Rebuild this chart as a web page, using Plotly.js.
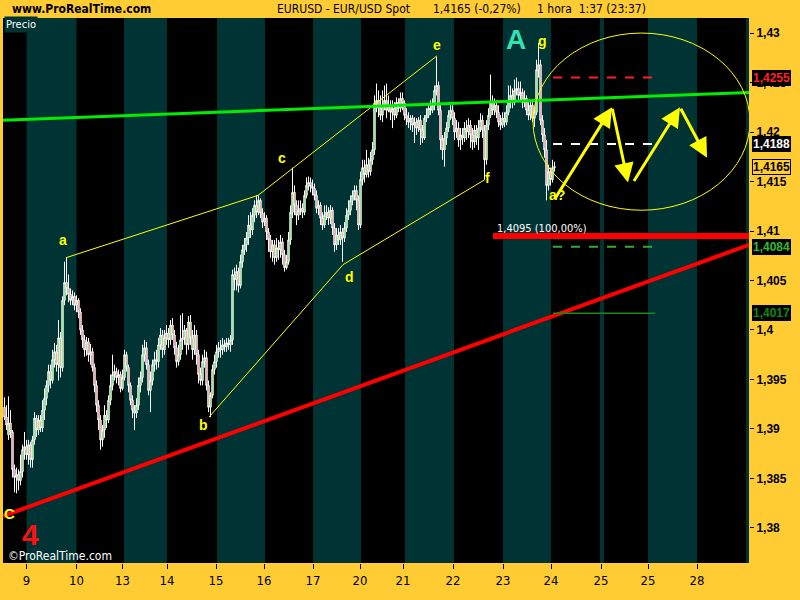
<!DOCTYPE html>
<html>
<head>
<meta charset="utf-8">
<script src="https://cdn.plot.ly/plotly-3.0.1.min.js"></script>
<style>html,body{margin:0;padding:0;background:#ffcc33;}#chart{width:800px;height:600px;}</style>
</head>
<body>
<div id="chart"></div>
<script>
// ---- DATA (EUR/USD, 1 hour candles) ----
const openP = [1.3922,1.3912,1.3894,1.3906,1.3897,1.3859,1.3851,1.3854,1.3848,1.3857,
1.3879,1.3882,1.3874,1.3884,1.3869,1.3889,1.3911,1.3899,1.3909,1.3901,
1.3919,1.3931,1.3944,1.3958,1.3949,1.3970,1.3978,1.3965,1.3992,1.3962,
1.4030,1.4048,1.4042,1.4036,1.4030,1.4034,1.4025,1.4030,1.4018,1.4000,
1.3990,1.3980,1.3988,1.3975,1.3978,1.3962,1.3944,1.3924,1.3909,1.3889,
1.3899,1.3914,1.3909,1.3929,1.3944,1.3955,1.3958,1.3952,1.3955,1.3941,
1.3952,1.3975,1.3962,1.3944,1.3929,1.3919,1.3916,1.3924,1.3944,1.3952,
1.3975,1.3982,1.3965,1.3939,1.3949,1.3965,1.3970,1.3968,1.3985,1.3995,
1.3980,1.3992,1.3997,1.3990,1.4005,1.3995,1.3982,1.3968,1.3975,1.3990,
1.3992,1.4000,1.3985,1.4008,1.3992,1.3980,1.3995,1.3975,1.3955,1.3949,
1.3968,1.3972,1.3944,1.3922,1.3934,1.3960,1.3968,1.3978,1.3982,1.3980,
1.3985,1.3983,1.3987,1.3985,1.3990,1.4056,1.4051,1.4059,1.4045,1.4069,
1.4081,1.4086,1.4093,1.4106,1.4101,1.4116,1.4126,1.4119,1.4131,1.4118,
1.4109,1.4113,1.4099,1.4091,1.4079,1.4086,1.4073,1.4083,1.4081,1.4089,
1.4076,1.4063,1.4069,1.4091,1.4119,1.4139,1.4126,1.4116,1.4121,1.4123,
1.4119,1.4136,1.4146,1.4149,1.4145,1.4143,1.4136,1.4123,1.4126,1.4113,
1.4106,1.4116,1.4119,1.4113,1.4121,1.4103,1.4086,1.4096,1.4091,1.4099,
1.4093,1.4103,1.4116,1.4121,1.4131,1.4136,1.4141,1.4131,1.4106,1.4152,
1.4164,1.4157,1.4167,1.4160,1.4172,1.4182,1.4229,1.4232,1.4224,1.4217,
1.4227,1.4232,1.4222,1.4227,1.4220,1.4224,1.4217,1.4230,1.4224,1.4234,
1.4229,1.4217,1.4214,1.4210,1.4214,1.4207,1.4210,1.4204,1.4212,1.4202,
1.4194,1.4214,1.4217,1.4224,1.4222,1.4227,1.4242,1.4247,1.4222,1.4192,
1.4182,1.4194,1.4204,1.4217,1.4222,1.4214,1.4200,1.4204,1.4192,1.4197,
1.4194,1.4204,1.4200,1.4207,1.4197,1.4190,1.4202,1.4194,1.4204,1.4212,
1.4202,1.4172,1.4207,1.4217,1.4230,1.4222,1.4227,1.4220,1.4210,1.4207,
1.4214,1.4210,1.4220,1.4232,1.4237,1.4230,1.4242,1.4244,1.4237,1.4240,
1.4230,1.4234,1.4222,1.4217,1.4227,1.4214,1.4220,1.4263,1.4268,1.4212,
1.4197,1.4182,1.4146,1.4160,1.4152,1.4164];
const highP = [1.3932,1.3924,1.3933,1.3919,1.3899,1.3864,1.3861,1.3859,1.3874,1.3884,
1.3897,1.3889,1.3889,1.3887,1.3893,1.3917,1.3914,1.3914,1.3914,1.3929,
1.3941,1.3949,1.3965,1.3965,1.3980,1.3987,1.3985,1.4010,1.3998,1.4034,
1.4069,1.4073,1.4056,1.4042,1.4040,1.4038,1.4035,1.4032,1.4022,1.4005,
1.3995,1.3993,1.3992,1.3986,1.3982,1.3966,1.3949,1.3929,1.3914,1.3904,
1.3924,1.3919,1.3934,1.3955,1.3975,1.3965,1.3962,1.3960,1.3958,1.3960,
1.3980,1.3978,1.3965,1.3947,1.3934,1.3924,1.3931,1.3952,1.3958,1.3985,
1.3990,1.3988,1.3970,1.3958,1.3970,1.3978,1.3980,1.3992,1.4002,1.4000,
1.4000,1.4005,1.4002,1.4010,1.4012,1.4000,1.3988,1.3985,1.4015,1.4017,
1.4005,1.4002,1.4014,1.4015,1.4000,1.4005,1.4000,1.3980,1.3962,1.3975,
1.3980,1.3978,1.3949,1.3937,1.3965,1.3975,1.3985,1.3988,1.3990,1.3992,
1.3990,1.3992,1.3992,1.3995,1.4061,1.4063,1.4066,1.4063,1.4076,1.4086,
1.4093,1.4099,1.4116,1.4119,1.4123,1.4131,1.4136,1.4136,1.4133,1.4123,
1.4119,1.4116,1.4103,1.4096,1.4091,1.4091,1.4093,1.4091,1.4096,1.4093,
1.4081,1.4076,1.4099,1.4126,1.4164,1.4146,1.4131,1.4131,1.4131,1.4128,
1.4141,1.4154,1.4155,1.4154,1.4152,1.4148,1.4141,1.4131,1.4129,1.4119,
1.4126,1.4126,1.4124,1.4126,1.4124,1.4108,1.4103,1.4103,1.4106,1.4103,
1.4109,1.4123,1.4131,1.4136,1.4141,1.4146,1.4146,1.4136,1.4160,1.4172,
1.4172,1.4182,1.4174,1.4180,1.4190,1.4237,1.4249,1.4242,1.4237,1.4242,
1.4247,1.4249,1.4237,1.4232,1.4232,1.4230,1.4235,1.4234,1.4240,1.4240,
1.4232,1.4224,1.4220,1.4217,1.4217,1.4215,1.4214,1.4215,1.4217,1.4207,
1.4217,1.4224,1.4229,1.4232,1.4234,1.4247,1.4276,1.4251,1.4227,1.4197,
1.4200,1.4210,1.4222,1.4227,1.4227,1.4220,1.4212,1.4210,1.4204,1.4204,
1.4210,1.4212,1.4214,1.4212,1.4204,1.4207,1.4207,1.4212,1.4219,1.4217,
1.4207,1.4212,1.4224,1.4258,1.4237,1.4234,1.4232,1.4227,1.4217,1.4220,
1.4220,1.4227,1.4247,1.4247,1.4244,1.4253,1.4255,1.4251,1.4251,1.4244,
1.4242,1.4237,1.4230,1.4232,1.4232,1.4224,1.4273,1.4290,1.4273,1.4217,
1.4204,1.4192,1.4167,1.4164,1.4172,1.4170];
const lowP = [1.3909,1.3899,1.3889,1.3891,1.3851,1.3836,1.3835,1.3838,1.3843,1.3851,
1.3869,1.3869,1.3864,1.3861,1.3861,1.3884,1.3892,1.3894,1.3897,1.3897,
1.3909,1.3924,1.3937,1.3941,1.3946,1.3962,1.3958,1.3949,1.3952,1.3958,
1.4025,1.4035,1.4028,1.4025,1.4025,1.4020,1.4018,1.4012,1.3995,1.3982,
1.3973,1.3974,1.3968,1.3965,1.3958,1.3937,1.3917,1.3899,1.3879,1.3882,
1.3891,1.3901,1.3906,1.3924,1.3939,1.3949,1.3946,1.3944,1.3937,1.3939,
1.3949,1.3958,1.3937,1.3924,1.3911,1.3899,1.3911,1.3919,1.3937,1.3947,
1.3968,1.3960,1.3934,1.3917,1.3944,1.3958,1.3960,1.3962,1.3980,1.3972,
1.3975,1.3985,1.3982,1.3985,1.3990,1.3975,1.3962,1.3964,1.3970,1.3980,
1.3985,1.3975,1.3980,1.3985,1.3970,1.3975,1.3965,1.3946,1.3944,1.3944,
1.3962,1.3939,1.3917,1.3912,1.3931,1.3955,1.3962,1.3972,1.3972,1.3975,
1.3978,1.3978,1.3980,1.3978,1.3985,1.4040,1.4040,1.4038,1.4042,1.4063,
1.4076,1.4079,1.4086,1.4093,1.4096,1.4109,1.4113,1.4116,1.4113,1.4103,
1.4105,1.4091,1.4079,1.4073,1.4069,1.4066,1.4069,1.4071,1.4073,1.4066,
1.4059,1.4061,1.4066,1.4086,1.4113,1.4116,1.4106,1.4111,1.4116,1.4113,
1.4116,1.4133,1.4141,1.4139,1.4136,1.4131,1.4118,1.4116,1.4106,1.4101,
1.4103,1.4111,1.4106,1.4107,1.4096,1.4079,1.4081,1.4086,1.4086,1.4069,
1.4089,1.4099,1.4111,1.4116,1.4126,1.4131,1.4121,1.4101,1.4103,1.4146,
1.4149,1.4154,1.4154,1.4156,1.4167,1.4177,1.4220,1.4215,1.4212,1.4210,
1.4222,1.4214,1.4220,1.4212,1.4204,1.4212,1.4214,1.4220,1.4220,1.4222,
1.4212,1.4207,1.4204,1.4202,1.4200,1.4189,1.4197,1.4200,1.4187,1.4189,
1.4192,1.4210,1.4214,1.4217,1.4219,1.4222,1.4237,1.4217,1.4182,1.4172,
1.4165,1.4187,1.4200,1.4212,1.4207,1.4192,1.4194,1.4185,1.4182,1.4187,
1.4190,1.4192,1.4194,1.4184,1.4182,1.4184,1.4187,1.4182,1.4200,1.4194,
1.4152,1.4167,1.4202,1.4214,1.4217,1.4217,1.4214,1.4205,1.4202,1.4204,
1.4205,1.4207,1.4217,1.4224,1.4224,1.4227,1.4237,1.4232,1.4232,1.4224,
1.4225,1.4217,1.4212,1.4212,1.4210,1.4205,1.4217,1.4255,1.4207,1.4190,
1.4174,1.4131,1.4141,1.4146,1.4149,1.4160];
const closeP = [1.3912,1.3904,1.3906,1.3897,1.3859,1.3851,1.3854,1.3848,1.3857,1.3879,
1.3882,1.3874,1.3884,1.3869,1.3889,1.3911,1.3899,1.3909,1.3901,1.3919,
1.3931,1.3944,1.3958,1.3949,1.3970,1.3978,1.3965,1.3992,1.3962,1.4030,
1.4048,1.4042,1.4036,1.4030,1.4034,1.4025,1.4030,1.4018,1.4000,1.3990,
1.3980,1.3988,1.3975,1.3978,1.3962,1.3944,1.3924,1.3909,1.3889,1.3899,
1.3914,1.3909,1.3929,1.3944,1.3955,1.3958,1.3952,1.3955,1.3941,1.3952,
1.3975,1.3962,1.3944,1.3929,1.3919,1.3916,1.3924,1.3944,1.3952,1.3975,
1.3982,1.3965,1.3939,1.3949,1.3965,1.3970,1.3968,1.3985,1.3995,1.3980,
1.3992,1.3997,1.3990,1.4005,1.3995,1.3982,1.3968,1.3975,1.3990,1.3992,
1.4000,1.3985,1.4008,1.3992,1.3980,1.3995,1.3975,1.3955,1.3949,1.3968,
1.3972,1.3944,1.3922,1.3934,1.3960,1.3968,1.3978,1.3982,1.3980,1.3985,
1.3983,1.3987,1.3985,1.3990,1.4056,1.4051,1.4059,1.4045,1.4069,1.4081,
1.4086,1.4093,1.4106,1.4101,1.4116,1.4126,1.4119,1.4131,1.4118,1.4109,
1.4113,1.4099,1.4091,1.4079,1.4086,1.4073,1.4083,1.4081,1.4089,1.4076,
1.4063,1.4069,1.4091,1.4119,1.4139,1.4126,1.4116,1.4121,1.4123,1.4119,
1.4136,1.4146,1.4149,1.4145,1.4143,1.4136,1.4123,1.4126,1.4113,1.4106,
1.4116,1.4119,1.4113,1.4121,1.4103,1.4086,1.4096,1.4091,1.4099,1.4093,
1.4103,1.4116,1.4121,1.4131,1.4136,1.4141,1.4131,1.4106,1.4152,1.4164,
1.4157,1.4167,1.4160,1.4172,1.4182,1.4229,1.4232,1.4224,1.4217,1.4227,
1.4232,1.4222,1.4227,1.4220,1.4224,1.4217,1.4230,1.4224,1.4234,1.4229,
1.4217,1.4214,1.4210,1.4214,1.4207,1.4210,1.4204,1.4212,1.4202,1.4194,
1.4214,1.4217,1.4224,1.4222,1.4227,1.4242,1.4247,1.4222,1.4192,1.4182,
1.4194,1.4204,1.4217,1.4222,1.4214,1.4200,1.4204,1.4192,1.4197,1.4194,
1.4204,1.4200,1.4207,1.4197,1.4190,1.4202,1.4194,1.4204,1.4212,1.4202,
1.4172,1.4207,1.4217,1.4230,1.4222,1.4227,1.4220,1.4210,1.4207,1.4214,
1.4210,1.4220,1.4232,1.4237,1.4230,1.4242,1.4244,1.4237,1.4240,1.4230,
1.4234,1.4222,1.4217,1.4227,1.4214,1.4220,1.4263,1.4268,1.4212,1.4197,
1.4182,1.4146,1.4160,1.4152,1.4164,1.4165];

// x axis: candle slots (1 slot = 1 hour bar); day labels at day starts
const dayTickPos = [11.75, 36.75, 59.75, 82, 106.5, 130.5, 155, 178.5, 200, 225, 250, 274, 299, 322.5, 347];
const dayLabels = ['9','10','13','14','15','16','17','20','21','22','23','24','25','25','28'];
const bandStart = [11.75, 60.5, 107, 155, 201, 250, 298.5, 322.5, 371.5];
const bandEnd   = [36.75, 82, 131, 179, 225.5, 274, 300.5, 347, 373];

const priceTicks = [1.38, 1.385, 1.39, 1.395, 1.40, 1.405, 1.41, 1.415, 1.42, 1.425, 1.43];
const priceTickText = ['1,38','1,385','1,39','1,395','1,4','1,405','1,41','1,415','1,42','1,425','1,43'];

// wave drawing points (slot, price)
const upperWaveX = [31.5, 127.5, 217];
const upperWaveY = [1.4073, 1.4136, 1.4277];
const lowerWaveX = [103, 170, 241];
const lowerWaveY = [1.3912, 1.4066, 1.4152];
const greenLineX = [0, 373];
const greenLineY = [1.4212, 1.4240];
const redTrendX = [0, 373];
const redTrendY = [1.3812, 1.4086];
const supportLevel = 1.4095;
const supportX = [245, 373];
const levelX = [275, 326];
const levelRed = 1.4255, levelWhite = 1.4188, levelGreen = 1.4084, levelDarkGreen = 1.4017;
const lastPrice = 1.4165;
// projected zigzag path
const zigX = [275.5, 304.5, 312.5, 315, 338.5, 352];
const zigY = [1.4131, 1.4225, 1.4149, 1.4149, 1.4225, 1.4174];
// target ellipse bounds
const ellX = [265, 373.5];
const ellY = [1.4121, 1.4300];

// wave labels
const waveLabels = [
  {t:'a', x:30, y:1.4091}, {t:'b', x:100, y:1.3904}, {t:'c', x:139.5, y:1.4174},
  {t:'d', x:173, y:1.4054}, {t:'e', x:217, y:1.4288}, {t:'f', x:242, y:1.4154},
  {t:'g', x:269.5, y:1.4292}, {t:'a?', x:277, y:1.4136}
];

// candle slot centres (offset so bar edges fall on pixel centres)
const xs = openP.map((_, i) => i + 0.75);

const traces = [
  {
    type: 'candlestick', x: xs, open: openP, high: highP, low: lowP, close: closeP,
    increasing: {line: {color: '#ffffff', width: 1}, fillcolor: '#22dd22'},
    decreasing: {line: {color: '#ffffff', width: 1}, fillcolor: '#ee5555'},
    whiskerwidth: 0, showlegend: false, hoverinfo: 'skip'
  },
  {type:'scatter', mode:'lines', x: upperWaveX, y: upperWaveY, line:{color:'#ffff00', width:1}, showlegend:false, hoverinfo:'skip'},
  {type:'scatter', mode:'lines', x: lowerWaveX, y: lowerWaveY, line:{color:'#ffff00', width:1}, showlegend:false, hoverinfo:'skip'},
  {type:'scatter', mode:'lines', x: greenLineX, y: greenLineY, line:{color:'#00ee00', width:3}, showlegend:false, hoverinfo:'skip'},
  {type:'scatter', mode:'lines', x: redTrendX, y: redTrendY, line:{color:'#ff0000', width:4}, showlegend:false, hoverinfo:'skip'},
  {type:'scatter', mode:'lines', x: supportX, y: [supportLevel, supportLevel], line:{color:'#ff0000', width:6}, showlegend:false, hoverinfo:'skip'},
  {type:'scatter', mode:'lines', x: levelX, y: [levelRed, levelRed], line:{color:'#ff2020', width:2, dash:'dash'}, showlegend:false, hoverinfo:'skip'},
  {type:'scatter', mode:'lines', x: levelX, y: [levelWhite, levelWhite], line:{color:'#ffffff', width:2, dash:'dash'}, showlegend:false, hoverinfo:'skip'},
  {type:'scatter', mode:'lines', x: levelX, y: [levelGreen, levelGreen], line:{color:'#33aa33', width:2, dash:'dash'}, showlegend:false, hoverinfo:'skip'},
  {type:'scatter', mode:'lines', x: levelX, y: [levelDarkGreen, levelDarkGreen], line:{color:'#1a8a1a', width:1.5}, showlegend:false, hoverinfo:'skip'}
];

const shapes = bandStart.map((s, i) => ({
  type: 'rect', xref: 'x', yref: 'paper', x0: s, x1: bandEnd[i], y0: 0, y1: 1,
  fillcolor: '#003333', line: {width: 0}, layer: 'below'
}));
shapes.push({type:'circle', xref:'x', yref:'y', x0: ellX[0], x1: ellX[1], y0: ellY[0], y1: ellY[1],
  line:{color:'#ffff00', width:1}, fillcolor:'rgba(0,0,0,0)'});

const narrow = 'Liberation Sans Narrow, Arial Narrow, DejaVu Sans Condensed, sans-serif';
const bold = 'Liberation Sans, Arial, sans-serif';
const px = (v) => (v - 3) / 746;           // paper x from pixel
const py = (v) => (563 - v) / 545;         // paper y from pixel

const annotations = [
  {xref:'paper', yref:'paper', x: px(10), y: py(9), xanchor:'left', yanchor:'middle', showarrow:false,
   text:'www.ProRealTime.com', font:{family: narrow, size:12, color:'#000', weight:'bold'}},
  {xref:'paper', yref:'paper', x: px(412), y: py(9), xanchor:'right', yanchor:'middle', showarrow:false,
   text:'EURUSD - EUR/USD Spot', font:{family: narrow, size:12, color:'#000'}},
  {xref:'paper', yref:'paper', x: px(477), y: py(9), xanchor:'center', yanchor:'middle', showarrow:false,
   text:'1,4165 (-0,27%)', font:{family: narrow, size:12, color:'#000'}},
  {xref:'paper', yref:'paper', x: px(535), y: py(9), xanchor:'left', yanchor:'middle', showarrow:false,
   text:'1 hora  1:37 (23:37)', font:{family: narrow, size:12, color:'#000'}},
  {xref:'paper', yref:'paper', x: px(4), y: py(24), xanchor:'left', yanchor:'middle', showarrow:false,
   text:'Precio', bgcolor:'#003333', borderpad:1, font:{family: narrow, size:11, color:'#fff'}},
  {xref:'paper', yref:'paper', x: px(6), y: py(556), xanchor:'left', yanchor:'middle', showarrow:false,
   text:'©ProRealTime.com', font:{family: narrow, size:12, color:'#fff'}},
  {xref:'x', yref:'y', x: 13.5, y: 1.3793, showarrow:false, text:'4', font:{family: bold, size:30, color:'#ff1010', weight:'bold'}},
  {xref:'x', yref:'y', x: 3, y: 1.3815, showarrow:false, text:'C', font:{family: bold, size:15, color:'#ffff00', weight:'bold'}},
  {xref:'x', yref:'y', x: 256.5, y: 1.4293, showarrow:false, text:'A', font:{family: bold, size:28, color:'#33e0b0', weight:'bold'}},
  {xref:'x', yref:'y', x: 246, y: 1.4103, xanchor:'left', showarrow:false, text:'1,4095 (100,00%)', font:{family: narrow, size:11, color:'#fff'}}
];
waveLabels.forEach(l => annotations.push({xref:'x', yref:'y', x:l.x, y:l.y, showarrow:false, text:l.t,
  font:{family: bold, size:14, color:'#ffff00', weight:'bold'}}));
const legs = [[0,1],[1,2],[3,4],[4,5]];
legs.forEach(([a,b]) => annotations.push({xref:'x', yref:'y', axref:'x', ayref:'y',
  x: zigX[b], y: zigY[b], ax: zigX[a], ay: zigY[a], text:'', showarrow:true,
  arrowhead:2, arrowsize:1.3, arrowwidth:3, arrowcolor:'#ffff00'}));
const boxes = [
  {v: levelRed, t:'1,4255', c:'#ff2020', bg:'#000'},
  {v: levelWhite, t:'1,4188', c:'#ffffff', bg:'#000'},
  {v: lastPrice, t:'1,4165', c:'#000000', bg:'#ffcc33', border:'#000'},
  {v: levelGreen, t:'1,4084', c:'#33bb33', bg:'#000'},
  {v: levelDarkGreen, t:'1,4017', c:'#118811', bg:'#000'}
];
boxes.forEach(b => annotations.push({xref:'paper', yref:'y', x:1, y:b.v, xanchor:'left', xshift:3,
  showarrow:false, text:b.t, bgcolor:b.bg, bordercolor:b.border || b.bg, borderwidth:1, borderpad:0,
  font:{family: bold, size:12, color:b.c, weight:'bold'}}));

const layout = {
  width: 800, height: 600,
  paper_bgcolor: '#ffcc33', plot_bgcolor: '#000000',
  margin: {l: 3, r: 51, t: 18, b: 37},
  showlegend: false, boxgap: 0,
  xaxis: {range: [0, 373], tickvals: dayTickPos, ticktext: dayLabels, ticks: 'outside', ticklen: 5,
    tickcolor: '#000', showgrid: false, zeroline: false, showline: false,
    tickfont: {family: narrow, size: 13, color: '#000'}, rangeslider: {visible: false}, fixedrange: true},
  yaxis: {side: 'right', range: [1.37646, 1.43152], tickvals: priceTicks, ticktext: priceTickText,
    ticks: 'outside', ticklen: 4, tickcolor: '#000', showgrid: false, zeroline: false, showline: false,
    tickfont: {family: bold, size: 12, color: '#000', weight: 'bold'}, fixedrange: true},
  shapes: shapes, annotations: annotations
};
Plotly.newPlot('chart', traces, layout, {displayModeBar: false, staticPlot: true});
</script>
</body>
</html>
